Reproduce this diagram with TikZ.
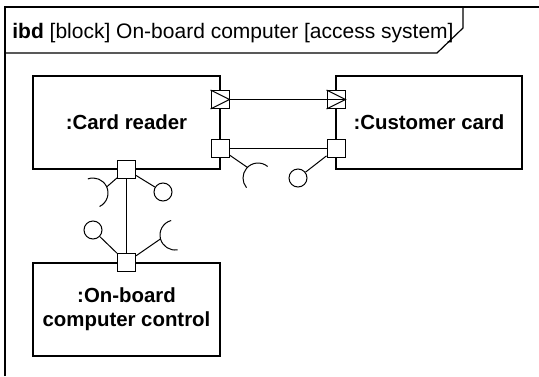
\documentclass[tikz,border=0pt]{standalone}
\usepackage{fontspec}
\setmainfont{Liberation Sans}
\usetikzlibrary{calc}

\tikzset{
  block/.style={draw, line width=0.6pt, minimum width=93.5pt, minimum height=46.5pt,
    align=center, inner sep=0pt, font=\fontsize{10.2}{12}\selectfont\bfseries},
  port/.style={draw, fill=white, line width=0.5pt, minimum size=9pt, inner sep=0pt},
  lolli/.style={draw, circle, line width=0.5pt, minimum size=9pt, inner sep=0pt},
  wire/.style={line width=0.5pt},
}

\begin{document}
\begin{tikzpicture}[x=0.5pt, y=0.5pt]
  \useasboundingbox (0,0) rectangle (539,376);

  % frame and its name tab
  \draw[line width=0.6pt] (5,0) -- (5,369) -- (539,369);
  \draw[line width=0.6pt] (5,323) -- (437,323) -- (463,348) -- (463,369);
  \node[anchor=west, inner sep=0pt, font=\fontsize{10.5}{12}\selectfont] (title) at (12,343)
    {\textbf{ibd} [block] On-board computer [access system]};

  % parts
  \node[block] (reader) at (126.5,253.5) {:Card reader};
  \node[block, minimum width=93pt] (card) at (429,253.5) {:Customer card};
  \node[block] (obc) at (126.5,66.5) {:On-board\\computer control};

  % connectors (drawn before the ports)
  \draw[wire] (220,276.5) -- (336,276.5);
  \draw[wire] (220,227.5) -- (336,227.5);
  \draw[wire] (reader.south) -- (obc.north);

  % ports
  \node[port] (rfp) at (220,276.5) {};
  \node[port] (cfp) at (336,276.5) {};
  \node[port] (rp) at (220,227.5) {};
  \node[port] (cp) at (336,227.5) {};
  \node[port] (rbp) at (reader.south) {};
  \node[port] (otp) at (obc.north) {};
  \draw[wire] (rfp.north west) -- (rfp.east) -- (rfp.south west);
  \draw[wire] (cfp.north west) -- (cfp.east) -- (cfp.south west);
  \draw[wire] (rfp.east) -- (cfp.east);

  % required and provided interfaces
  \coordinate (s1) at (258,198);
  \coordinate (s2) at (93,183);
  \coordinate (s3) at (175,141);
  \coordinate (t1) at ($(s1)+(135:7.5pt)$);
  \coordinate (t2) at ($(s2)+(24:7.5pt)$);
  \coordinate (t3) at ($(s3)+(195:7.5pt)$);
  \draw[wire] (s1) ++(50:7.5pt) arc[start angle=50, end angle=220, radius=7.5pt];
  \draw[wire] (s2) ++(-64:7.5pt) arc[start angle=-64, end angle=110, radius=7.5pt];
  \draw[wire] (s3) ++(105:7.5pt) arc[start angle=105, end angle=280, radius=7.5pt];
  \draw[wire] (rp) -- (t1);
  \draw[wire] (rbp) -- (t2);
  \draw[wire] (otp) -- (t3);

  \node[lolli] (l1) at (298,198) {};
  \node[lolli] (l2) at (163,184) {};
  \node[lolli] (l3) at (93,146) {};
  \draw[wire] (cp) -- (l1);
  \draw[wire] (rbp) -- (l2);
  \draw[wire] (otp) -- (l3);
\end{tikzpicture}
\end{document}
